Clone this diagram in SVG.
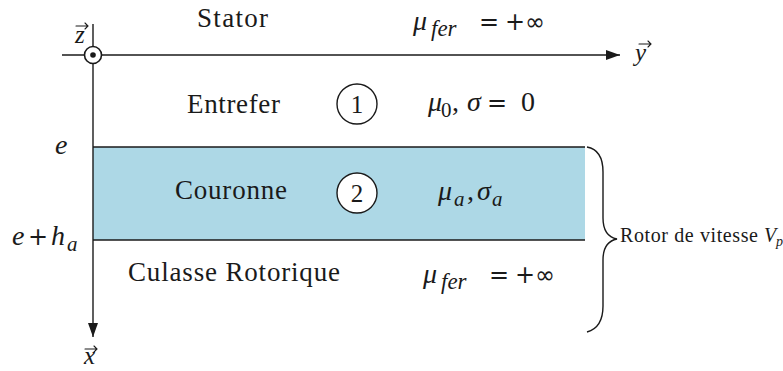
<svg xmlns="http://www.w3.org/2000/svg" width="783" height="371" viewBox="0 0 783 371">
<style>
  .lbl { font-family: "Liberation Serif", "Times New Roman", serif; font-size: 27px; fill: #1a1a1a; }
  .m { font-family: "Liberation Serif", "Times New Roman", serif; font-size: 28px; font-style: italic; fill: #1a1a1a; }
  .r { font-style: normal; }
  .op { font-family: "DejaVu Sans", "Liberation Sans", sans-serif; font-style: normal; font-size: 24px; }
  .sub { font-size: 21px; }
  .subf { font-size: 23px; }
  .axis { stroke: #1a1a1a; stroke-width: 1.4; fill: none; }
  .edge { stroke: #1a1a1a; stroke-width: 1.4; }
  .num { fill: #fff; stroke: #1a1a1a; stroke-width: 1.4; }
  .digit { font-family: "Liberation Serif", "Times New Roman", serif; font-size: 25px; fill: #1a1a1a; text-anchor: middle; }
  .acc { stroke: #1a1a1a; stroke-width: 1.1; fill: none; stroke-linecap: round; }
</style>
<defs>
  <marker id="ah" markerWidth="14" markerHeight="10" refX="14" refY="5" orient="auto" markerUnits="userSpaceOnUse">
    <path d="M0,0 L14,5 L0,10 z" fill="#1a1a1a"/>
  </marker>
  <path id="vecacc" class="acc" d="M0,0 H12 M9,-3 L12,0 L9,3"/>
</defs>
<rect width="783" height="371" fill="#fff"/>

<g id="couronne-band">
  <rect x="93" y="147" width="492" height="93" fill="#add8e6"/>
  <line class="edge" x1="93" y1="147" x2="585" y2="147"/>
  <line class="edge" x1="93" y1="240" x2="585" y2="240"/>
</g>

<g id="connectors">
  <line class="axis" x1="62" y1="55" x2="620" y2="55" marker-end="url(#ah)"/>
  <line class="axis" x1="93" y1="24" x2="93" y2="337" marker-end="url(#ah)"/>
  <path class="axis" stroke-width="2" d="M587,147 C598,149 603,158 603,172 L603,218 C603,230 607,237 617,239 C607,241 603,248 603,260 L603,306 C603,320 598,329 587,332"/>
</g>

<g id="axis-z">
  <circle cx="93" cy="55" r="8.5" fill="#fff" stroke="#1a1a1a" stroke-width="1.6"/>
  <circle cx="93" cy="55" r="2.8" fill="#1a1a1a"/>
  <text class="m" x="75" y="43" style="font-size:25px">z</text>
  <use href="#vecacc" x="76" y="26"/>
</g>
<g id="axis-y">
  <text class="m" x="635" y="61" style="font-size:25px">y</text>
  <use href="#vecacc" x="639" y="44"/>
</g>
<g id="axis-x">
  <text class="m" x="84" y="364" style="font-size:25px">x</text>
  <use href="#vecacc" x="85" y="349"/>
</g>

<g id="stator">
  <text class="lbl" x="197" y="27" textLength="71">Stator</text>
  <text class="m" x="413" y="30">μ<tspan class="subf" x="431" y="36">fer</tspan><tspan class="op" x="479" y="30">=</tspan><tspan class="op" x="505" y="30">+∞</tspan></text>
</g>

<g id="entrefer">
  <text class="lbl" x="187" y="113" textLength="93">Entrefer</text>
  <circle class="num" cx="357" cy="104" r="20"/>
  <text class="digit" x="357" y="113">1</text>
  <text class="m" x="428" y="111">μ<tspan class="sub r" x="441" y="117">0</tspan><tspan class="r" x="452" y="111">,</tspan><tspan x="467" y="111">σ</tspan><tspan class="op" x="487" y="111">=</tspan><tspan class="r" x="521" y="111">0</tspan></text>
</g>

<g id="couronne">
  <text class="lbl" x="175" y="199" textLength="112">Couronne</text>
  <circle class="num" cx="357" cy="193" r="20"/>
  <text class="digit" x="357" y="202">2</text>
  <text class="m" x="438" y="200">μ<tspan class="sub" x="454" y="206">a</tspan><tspan class="r" x="467" y="200">,</tspan><tspan x="477" y="200">σ</tspan><tspan class="sub" x="492" y="206">a</tspan></text>
</g>

<g id="culasse">
  <text class="lbl" x="128" y="281" textLength="212">Culasse Rotorique</text>
  <text class="m" x="423" y="283">μ<tspan class="subf" x="441" y="289">fer</tspan><tspan class="op" x="489" y="283">=</tspan><tspan class="op" x="515" y="283">+∞</tspan></text>
</g>

<g id="label-e">
  <text class="m" x="55" y="154">e</text>
</g>
<g id="label-e-ha">
  <text class="m" x="12" y="245">e<tspan class="op" x="28" y="245">+</tspan><tspan x="51" y="245">h</tspan><tspan class="sub" x="67" y="251">a</tspan></text>
</g>

<g id="rotor">
  <text class="lbl" x="620" y="242" style="font-size:20px" textLength="138">Rotor de vitesse</text>
  <text class="m" x="764" y="242" style="font-size:20px">V<tspan style="font-size:14px" x="776" y="246">p</tspan></text>
</g>
</svg>
